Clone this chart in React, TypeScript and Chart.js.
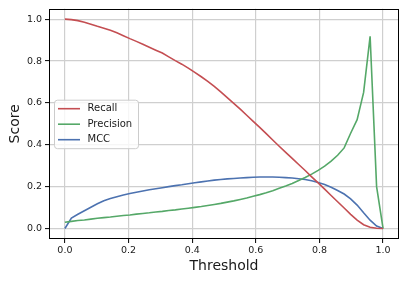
import React, { useEffect, useRef } from "react";
import { Chart, registerables } from "chart.js";

Chart.register(...registerables);

const thresholds = [
  0.0, 0.0204, 0.0408, 0.0612, 0.0816, 0.102, 0.1224, 0.1429, 0.1633, 0.1837,
  0.2041, 0.2245, 0.2449, 0.2653, 0.2857, 0.3061, 0.3265, 0.3469, 0.3673, 0.3878,
  0.4082, 0.4286, 0.449, 0.4694, 0.4898, 0.5102, 0.5306, 0.551, 0.5714, 0.5918,
  0.6122, 0.6327, 0.6531, 0.6735, 0.6939, 0.7143, 0.7347, 0.7551, 0.7755, 0.7959,
  0.8163, 0.8367, 0.8571, 0.8776, 0.898, 0.9184, 0.9388, 0.9592, 0.9796, 1.0,
];

const recall = [
  1.0, 0.998, 0.993, 0.985, 0.976, 0.966, 0.957, 0.947, 0.935, 0.921,
  0.907, 0.894, 0.88, 0.866, 0.852, 0.838, 0.82, 0.802, 0.785, 0.766,
  0.746, 0.725, 0.703, 0.679, 0.653, 0.625, 0.598, 0.57, 0.541, 0.512,
  0.483, 0.453, 0.423, 0.393, 0.364, 0.335, 0.306, 0.277, 0.247, 0.218,
  0.188, 0.158, 0.128, 0.098, 0.068, 0.04, 0.018, 0.006, 0.001, 0.0,
];

const precision = [
  0.03, 0.034, 0.038, 0.041, 0.045, 0.049, 0.052, 0.055, 0.059, 0.062,
  0.065, 0.069, 0.072, 0.075, 0.079, 0.082, 0.086, 0.089, 0.093, 0.097,
  0.101, 0.105, 0.11, 0.115, 0.12, 0.126, 0.132, 0.139, 0.146, 0.154,
  0.162, 0.171, 0.181, 0.192, 0.203, 0.215, 0.229, 0.244, 0.26, 0.278,
  0.298, 0.322, 0.35, 0.385, 0.455, 0.52, 0.65, 0.918, 0.2, 0.0,
];

const mcc = [
  0.0, 0.05, 0.068, 0.085, 0.102, 0.118, 0.133, 0.143, 0.152, 0.16,
  0.167, 0.173, 0.179, 0.185, 0.19, 0.195, 0.2, 0.205, 0.209, 0.214,
  0.219, 0.223, 0.227, 0.231, 0.234, 0.237, 0.239, 0.241, 0.243, 0.245,
  0.246, 0.246, 0.246, 0.245, 0.243, 0.241, 0.238, 0.234, 0.228, 0.22,
  0.21, 0.197, 0.182, 0.165, 0.142, 0.112, 0.075, 0.04, 0.012, 0.0,
];

const tickValues = [0.0, 0.2, 0.4, 0.6, 0.8, 1.0];
const seriesNames = ["Recall", "Precision", "MCC"];
const seriesColors = ["#C44E52", "#55A868", "#4C72B0"];

const FONT = "'DejaVu Sans', sans-serif";

const boxPlugin = {
  id: "mplBox",
  afterDatasetsDraw(chart: any) {
    const { ctx, chartArea } = chart;
    ctx.save();
    ctx.strokeStyle = "#000";
    ctx.lineWidth = 1;
    ctx.strokeRect(
      Math.round(chartArea.left) + 0.5,
      Math.round(chartArea.top) + 0.5,
      Math.round(chartArea.right - chartArea.left) - 1,
      Math.round(chartArea.bottom - chartArea.top) - 1
    );
    ctx.restore();

    // legend
    const x0 = chartArea.left + 5.5;
    const y0 = chartArea.top + 91.5;
    const w = 84;
    const h = 48.5;
    const r = 3;
    ctx.save();
    ctx.beginPath();
    ctx.moveTo(x0 + r, y0);
    ctx.lineTo(x0 + w - r, y0);
    ctx.arcTo(x0 + w, y0, x0 + w, y0 + r, r);
    ctx.lineTo(x0 + w, y0 + h - r);
    ctx.arcTo(x0 + w, y0 + h, x0 + w - r, y0 + h, r);
    ctx.lineTo(x0 + r, y0 + h);
    ctx.arcTo(x0, y0 + h, x0, y0 + h - r, r);
    ctx.lineTo(x0, y0 + r);
    ctx.arcTo(x0, y0, x0 + r, y0, r);
    ctx.closePath();
    ctx.fillStyle = "rgba(255,255,255,0.8)";
    ctx.fill();
    ctx.strokeStyle = "#cccccc";
    ctx.lineWidth = 1;
    ctx.stroke();
    ctx.font = `10px ${FONT}`;
    ctx.textBaseline = "middle";
    ctx.textAlign = "left";
    chart.data.datasets.forEach((ds: any, i: number) => {
      const yy = y0 + 8.5 + i * 15.5;
      ctx.beginPath();
      ctx.moveTo(x0 + 3.5, yy);
      ctx.lineTo(x0 + 25.5, yy);
      ctx.strokeStyle = ds.borderColor;
      ctx.lineWidth = 1.6;
      ctx.stroke();
      ctx.fillStyle = "#1a1a1a";
      ctx.fillText(ds.label, x0 + 33, yy);
    });
    ctx.restore();
  },
};

export default function App() {
  const canvasRef = useRef<HTMLCanvasElement | null>(null);

  useEffect(() => {
    if (!canvasRef.current) return;
    const datasets = [recall, precision, mcc].map((vals, k) => ({
      label: seriesNames[k],
      data: thresholds.map((t, i) => ({ x: t, y: vals[i] })),
      borderColor: seriesColors[k],
      backgroundColor: seriesColors[k],
      borderWidth: 1.6,
      pointRadius: 0,
      tension: 0,
      fill: false,
    }));
    const tickFont = { family: FONT, size: 9.5 };
    const chart = new Chart(canvasRef.current, {
      type: "line",
      data: { datasets },
      plugins: [boxPlugin],
      options: {
        animation: false,
        responsive: false,
        maintainAspectRatio: false,
        layout: { padding: { left: 0, top: 7, right: 8, bottom: 0 } },
        plugins: {
          legend: { display: false },
          tooltip: { enabled: false },
        },
        scales: {
          x: {
            type: "linear",
            min: -0.05,
            max: 1.05,
            afterBuildTicks: (scale: any) => {
              scale.ticks = tickValues.map((v) => ({ value: v }));
            },
            afterFit: (scale: any) => {
              scale.height = 43;
            },
            grid: {
              color: "#cfcfcf",
              lineWidth: 1.2,
              tickLength: 4,
              tickColor: "#000",
              tickWidth: 1,
            },
            border: { display: false },
            ticks: {
              font: tickFont,
              color: "#1a1a1a",
              padding: 2,
              maxRotation: 0,
              callback: (v: any) => Number(v).toFixed(1),
            },
            title: {
              display: true,
              text: "Threshold",
              font: { family: FONT, size: 14 },
              color: "#1a1a1a",
              padding: { top: 0, bottom: 7 },
            },
          },
          y: {
            type: "linear",
            min: -0.05,
            max: 1.05,
            afterBuildTicks: (scale: any) => {
              scale.ticks = tickValues.map((v) => ({ value: v }));
            },
            afterFit: (scale: any) => {
              scale.width = 49;
            },
            grid: {
              color: "#cfcfcf",
              lineWidth: 1.2,
              tickLength: 4,
              tickColor: "#000",
              tickWidth: 1,
            },
            border: { display: false },
            ticks: {
              font: tickFont,
              color: "#1a1a1a",
              padding: 3,
              callback: (v: any) => Number(v).toFixed(1),
            },
            title: {
              display: true,
              text: "Score",
              font: { family: FONT, size: 14 },
              color: "#1a1a1a",
              padding: { top: 7, bottom: 0 },
            },
          },
        },
      } as any,
    });
    return () => chart.destroy();
  }, []);

  return (
    <div
      style={{
        position: "fixed",
        left: 0,
        top: 0,
        width: 407,
        height: 282,
        background: "#fff",
      }}
    >
      <canvas ref={canvasRef} width={407} height={282} />
    </div>
  );
}
